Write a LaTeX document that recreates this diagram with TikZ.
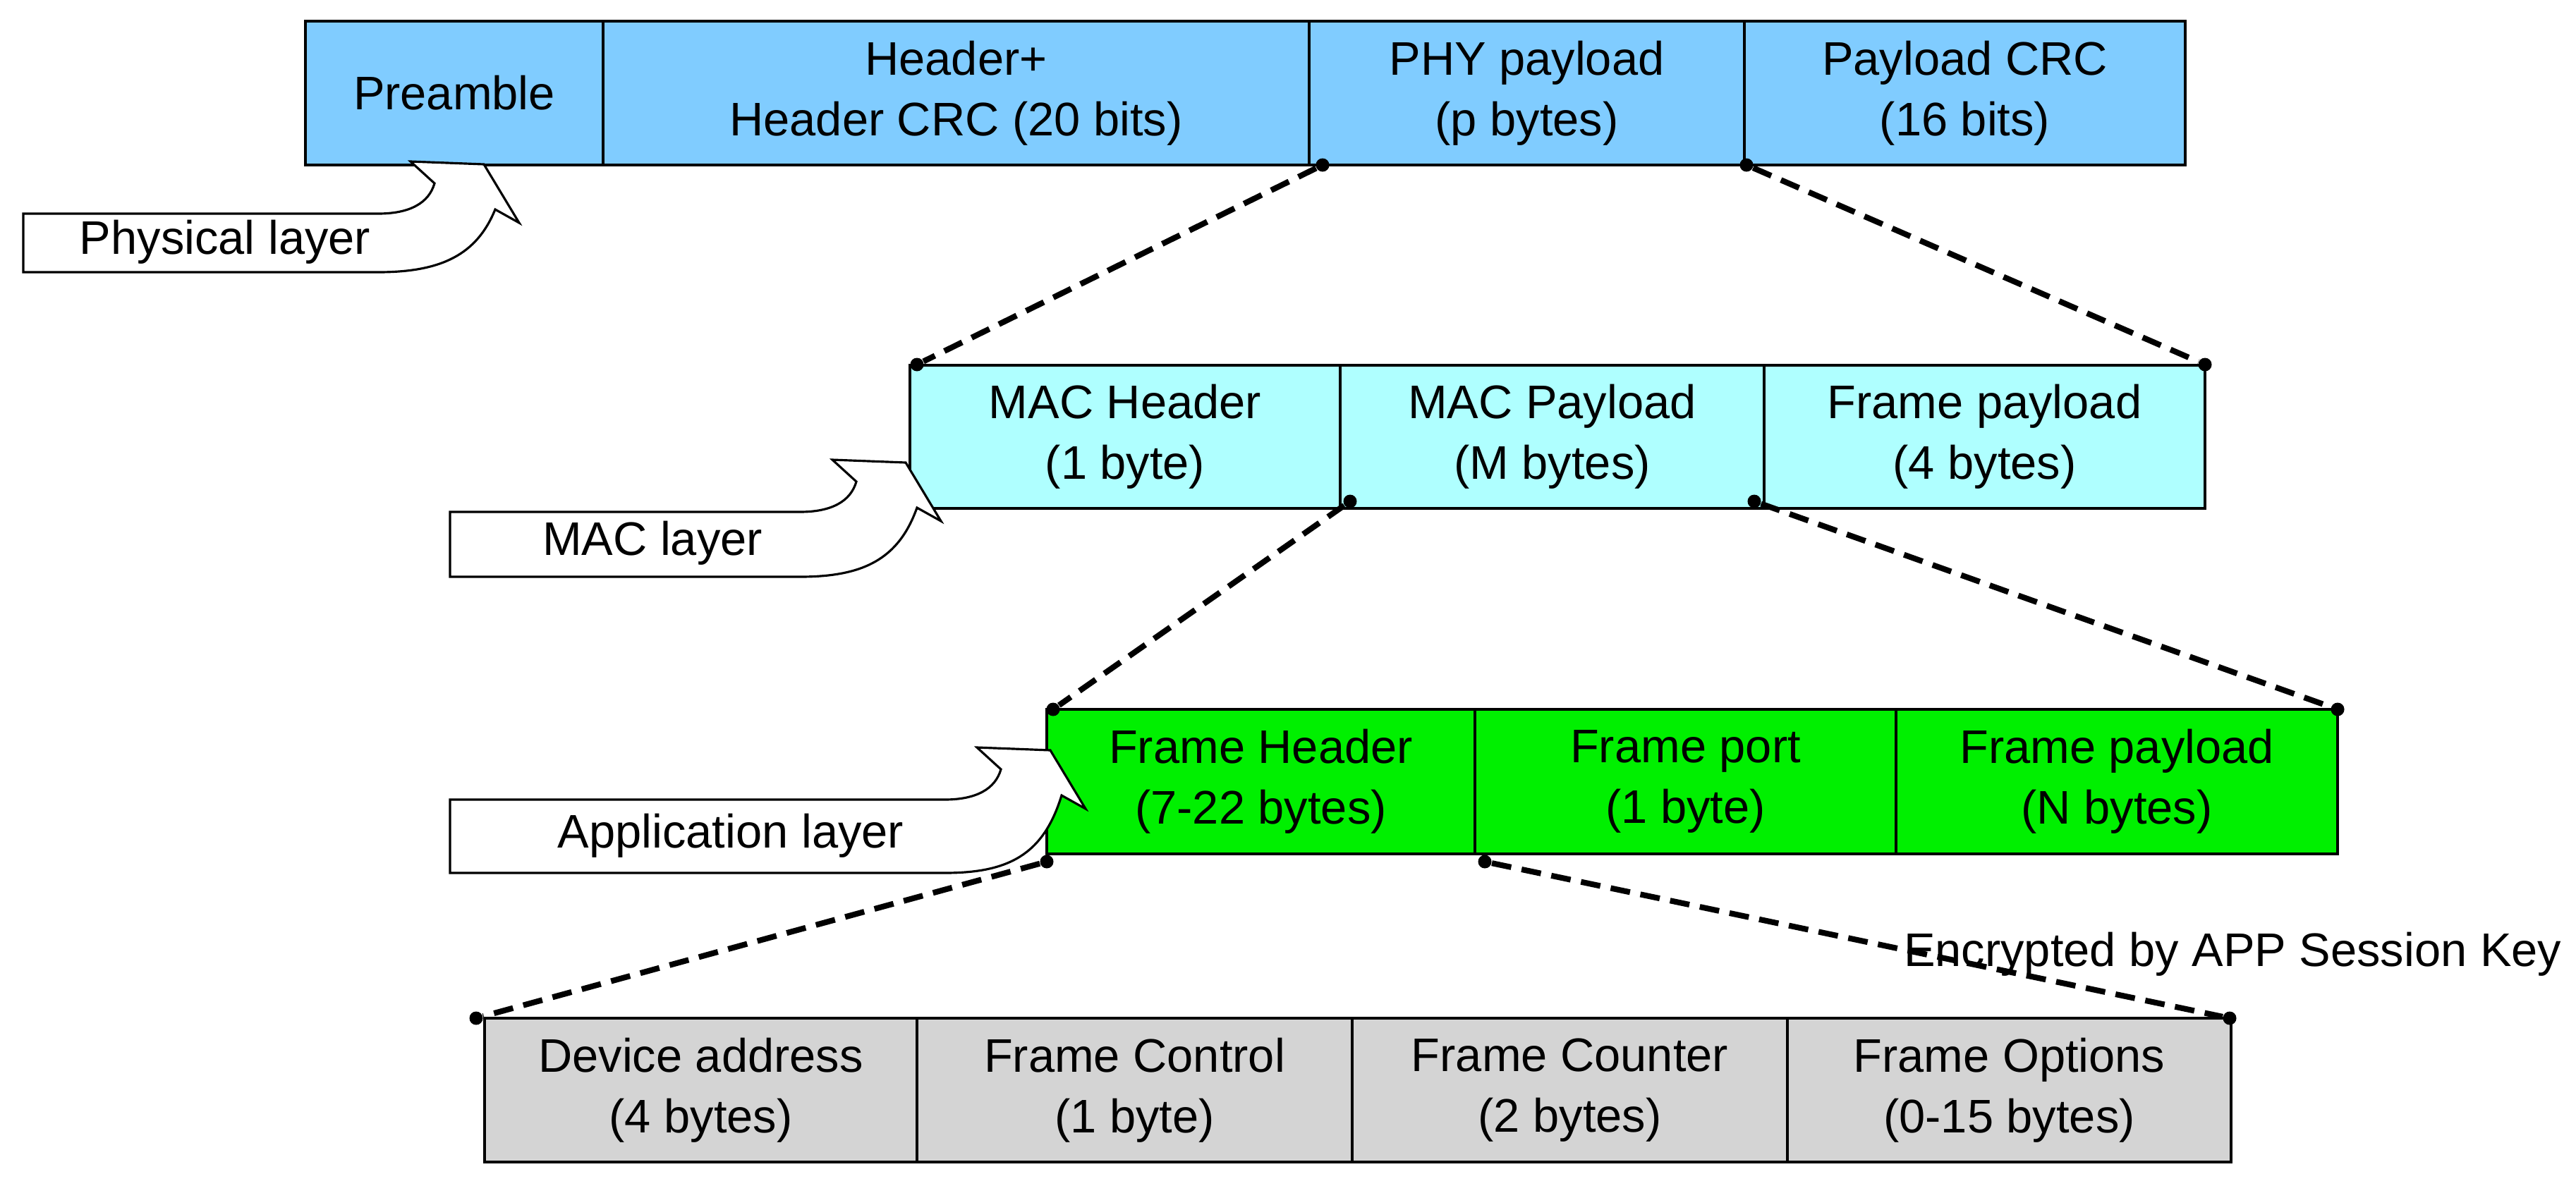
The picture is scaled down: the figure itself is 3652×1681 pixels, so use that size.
\documentclass[tikz,border=0pt]{standalone}
\usepackage{fontspec}
\setmainfont{Liberation Sans}
\begin{document}
\begin{tikzpicture}[x=0.01cm,y=-0.01cm,
  cell/.style={draw=black,line width=0.9pt,inner sep=0pt,align=center,font=\fontsize{19}{24.5}\selectfont},
  dot/.style={circle,fill=black,inner sep=0pt,minimum size=0.19cm},
  conn/.style={line width=2.3pt,dash pattern=on 0.28cm off 0.15cm},
  larrow/.style={draw=black,fill=white,line width=0.9pt},
  lbl/.style={font=\fontsize{19}{24.5}\selectfont,inner sep=0pt}]
\useasboundingbox (0,0) rectangle (3652,1681);
\definecolor{cphy}{HTML}{80CCFF}
\definecolor{cmac}{HTML}{AFFFFF}
\definecolor{capp}{HTML}{00F000}
\definecolor{cfrm}{HTML}{D4D4D4}
\newcommand\cell[7]{\node[cell,fill=#6,minimum width={(#3-#2)*0.01cm},minimum height={(#5-#4)*0.01cm}] (#1) at ({(#2+#3)/2},{(#4+#5)/2}) {#7};}
% Row 1
\cell{pre}{433}{855}{30}{234}{cphy}{Preamble}
\cell{hdr}{855}{1856}{30}{234}{cphy}{Header+\\Header CRC (20 bits)}
\cell{phy}{1856}{2473}{30}{234}{cphy}{PHY payload\\(p bytes)}
\cell{pcrc}{2473}{3098}{30}{234}{cphy}{Payload CRC\\(16 bits)}
% Row 2
\cell{mh}{1290}{1900}{518}{721}{cmac}{MAC Header\\(1 byte)}
\cell{mp}{1900}{2501}{518}{721}{cmac}{MAC Payload\\(M bytes)}
\cell{fp1}{2501}{3126}{518}{721}{cmac}{Frame payload\\(4 bytes)}
% Row 3
\cell{fh}{1484}{2091}{1006}{1211}{capp}{Frame Header\\(7-22 bytes)}
\cell{fport}{2091}{2688}{1006}{1211}{capp}{Frame port\\(1 byte)}
\cell{fp2}{2688}{3314}{1006}{1211}{capp}{Frame payload\\(N bytes)}
% Row 4
\cell{da}{687}{1300}{1444}{1648}{cfrm}{Device address\\(4 bytes)}
\cell{fc}{1300}{1917}{1444}{1648}{cfrm}{Frame Control\\(1 byte)}
\cell{fcnt}{1917}{2534}{1444}{1648}{cfrm}{Frame Counter\\(2 bytes)}
\cell{fo}{2534}{3163}{1444}{1648}{cfrm}{Frame Options\\(0-15 bytes)}
% layer arrows: left, top, straight end, bottom
\newcommand\layarrow[4]{\draw[larrow] (#1,#2) -- (#3,#2) .. controls ({#3+45},#2) and ({#3+72},{#2-15}) .. ({#3+80},{#2-43}) -- ({#3+46},{#2-74}) -- ({#3+150},{#2-70}) -- ({#3+200},{#2+13}) -- ({#3+166},{#2-6}) .. controls ({#3+140},{#4-25}) and ({#3+90},#4) .. (#3,#4) -- (#1,#4) -- cycle;}
\layarrow{33}{303}{536}{386}
\layarrow{638}{726}{1134}{818}
\layarrow{638}{1134}{1339}{1238}
\node[lbl] (tphy) at (319,343) {Physical layer};
\node[lbl] (tmac) at (925,770) {MAC layer};
\node[lbl] (tapp) at (1036,1185) {Application layer};
% dots
\node[dot] (a1) at (1875,234) {}; \node[dot] (a2) at (1300,517) {};
\node[dot] (b1) at (2476,234) {}; \node[dot] (b2) at (3126,517) {};
\node[dot] (c1) at (1914,711) {}; \node[dot] (c2) at (1493,1006) {};
\node[dot] (d1) at (2487,711) {}; \node[dot] (d2) at (3314,1006) {};
\node[dot] (e1) at (1484,1222) {}; \node[dot] (e2) at (675,1444) {};
\node[dot] (f1) at (2105,1222) {}; \node[dot] (f2) at (3161,1444) {};
\draw[conn] (a1) -- (a2);
\draw[conn] (b1) -- (b2);
\draw[conn] (c1) -- (c2);
\draw[conn] (d1) -- (d2);
\draw[conn] (e1) -- (e2);
\draw[conn] (f1) -- (f2);
\node[lbl,anchor=east] (enc) at (3632,1353) {Encrypted by APP Session Key};
\end{tikzpicture}
\end{document}
